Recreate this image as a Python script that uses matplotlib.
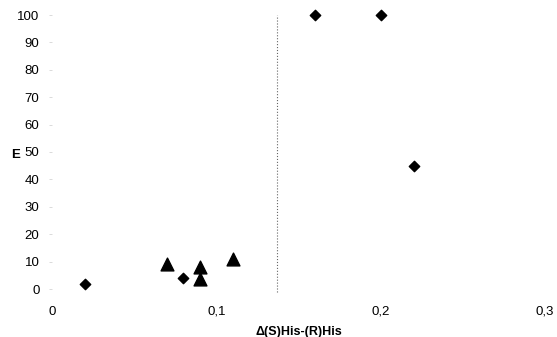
import matplotlib
matplotlib.use('Agg')
import matplotlib.pyplot as plt

plt.rcParams['font.family'] = ['Liberation Sans', 'DejaVu Sans']

# diamond series
dia_x = [0.02, 0.08, 0.16, 0.20, 0.22]
dia_y = [2, 4, 100, 100, 45]
# triangle series
tri_x = [0.07, 0.09, 0.09, 0.11]
tri_y = [9, 8, 3.5, 10.8]
cut_x = 0.137

xticks = [0, 0.1, 0.2, 0.3]
xlabels = ['0', '0,1', '0,2', '0,3']
yticks = list(range(0, 101, 10))

fig = plt.figure(figsize=(5.57, 3.37), dpi=100)
ax = fig.add_axes([52 / 557, 1 - 289 / 337, (545 - 52) / 557, (289 - 15) / 337])

ax.scatter(dia_x, dia_y, marker='D', s=28, color='black', clip_on=False, zorder=3)
ax.scatter(tri_x, tri_y, marker='^', s=85, color='black', clip_on=False, zorder=3)
ax.axvline(cut_x, ymin=-0.01, ymax=1.0, color='#666666', linestyle=':', linewidth=0.8, clip_on=False)

ax.set_xlim(0, 0.3)
ax.set_ylim(0, 100)
ax.set_xticks(xticks)
ax.set_xticklabels(xlabels)
ax.set_yticks(yticks)

for s in ax.spines.values():
    s.set_visible(False)
ax.tick_params(axis='x', length=0, pad=12, labelsize=9.5)
ax.tick_params(axis='y', length=2, width=0.5, color='#cccccc', pad=7, labelsize=9.5)

ax.set_xlabel('\u0394(S)His-(R)His', fontsize=9, fontweight='bold', labelpad=6)
ax.set_ylabel('E', fontsize=9.5, fontweight='bold', rotation=0, va='center', ha='center')
ax.yaxis.set_label_coords(-0.073, 0.49)

fig.savefig('out.png', dpi=100)
